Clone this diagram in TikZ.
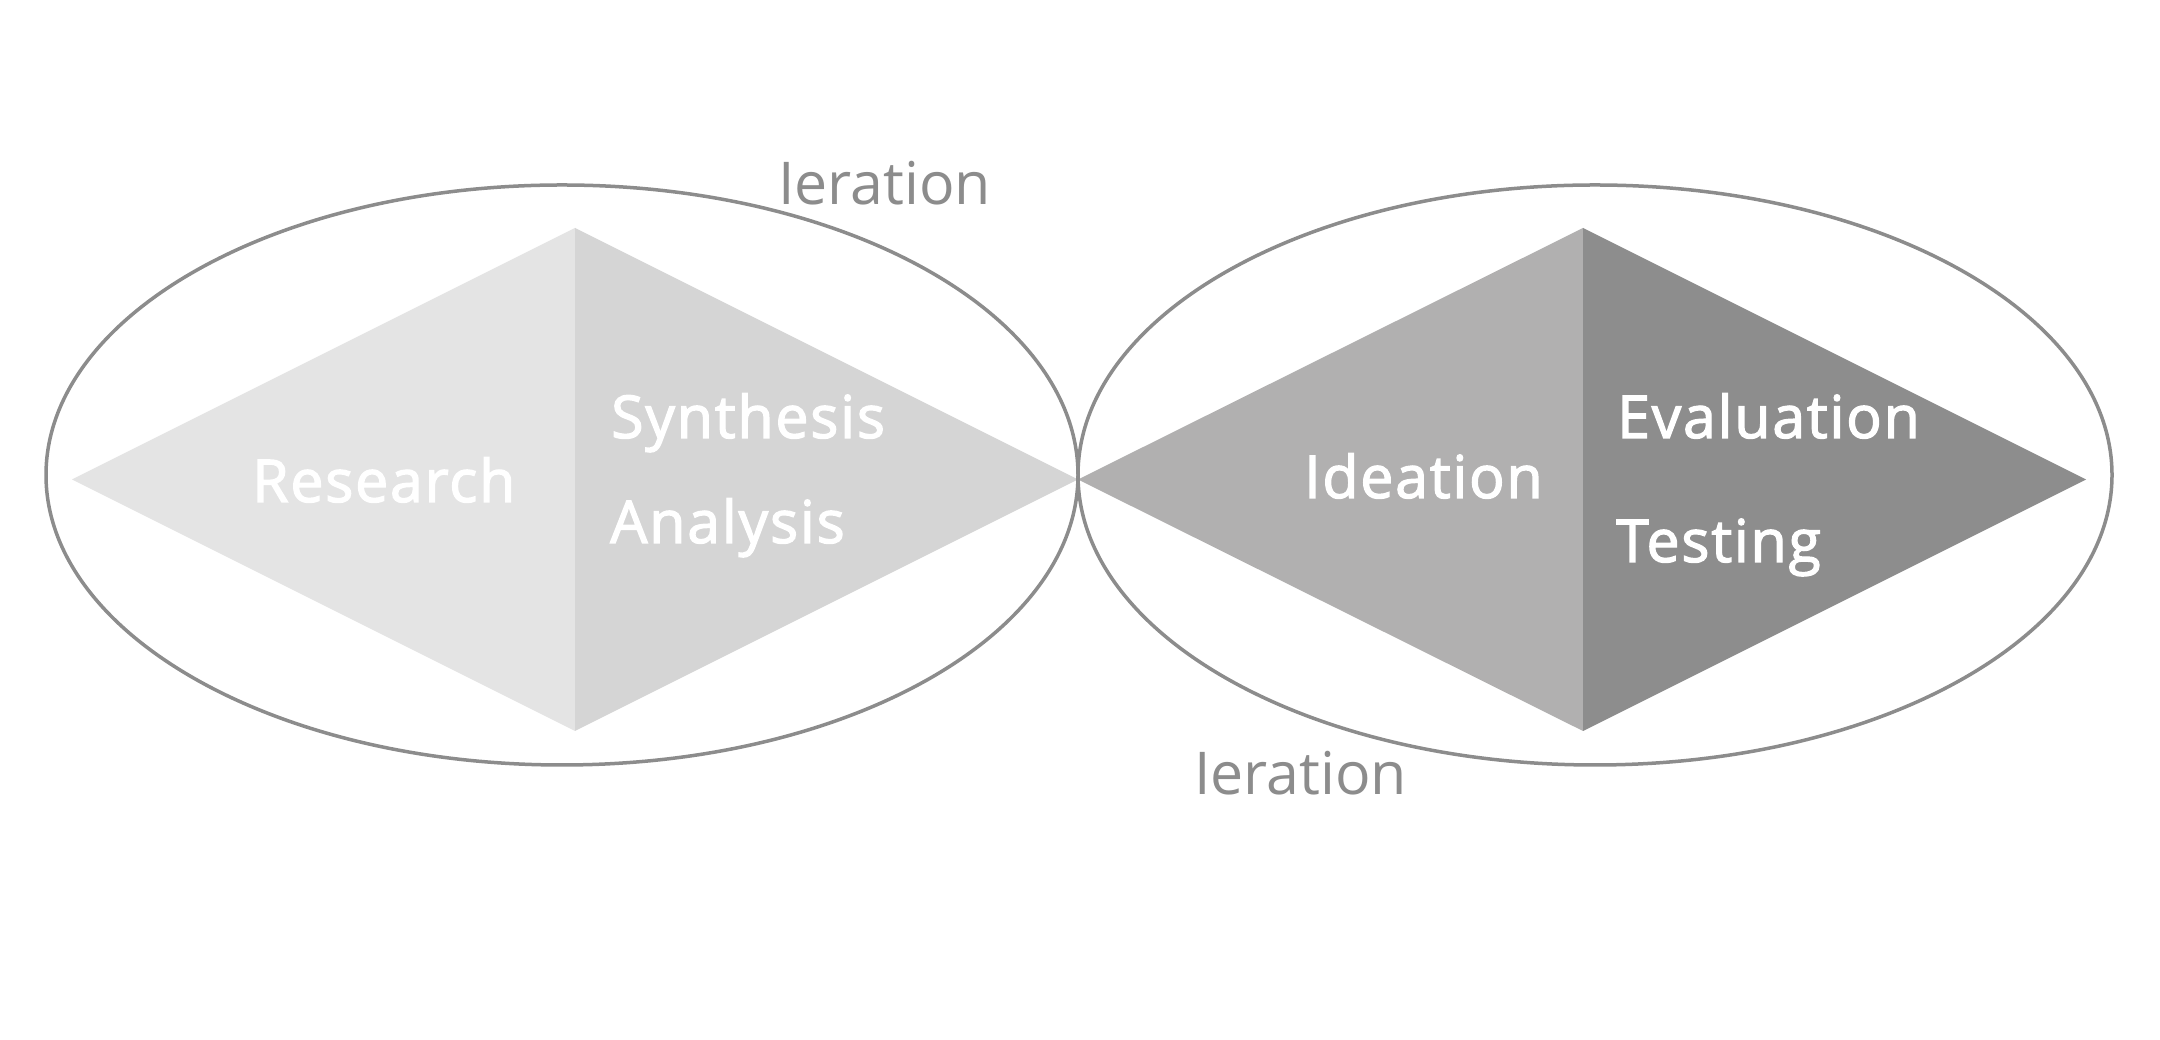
\documentclass[tikz,border=0pt]{standalone}
\usepackage{fontspec}
\setmainfont{Open Sans}
\newfontfamily\semib{Open Sans}[FakeBold=2.2,LetterSpace=3]
\definecolor{lineg}{HTML}{8C8C8C}
\definecolor{tA}{HTML}{E4E4E4}
\definecolor{tB}{HTML}{D5D5D5}
\definecolor{tC}{HTML}{B1B0B0}
\definecolor{tD}{HTML}{8D8D8D}
\begin{document}
\begin{tikzpicture}[x=1pt,y=1pt,
  lbl/.style={anchor=base west,inner sep=0pt,text=white,font=\semib\fontsize{59}{70}\selectfont},
  itlbl/.style={anchor=base west,inner sep=0pt,text=lineg,font=\fontsize{59}{70}\selectfont},
  loop/.style={draw=lineg,line width=3.5pt}]
\useasboundingbox[fill=white] (0,0) rectangle (2160,1040);
% left diamond
\fill[tA] (72,560.5) -- (575,812) -- (575,309) -- cycle;
\fill[tB] (575,812) -- (1078,560.5) -- (575,309) -- cycle;
% right diamond
\fill[tC] (1078,560.5) -- (1583,812) -- (1583,309) -- cycle;
\fill[tD] (1583,812) -- (2086,560.5) -- (1583,309) -- cycle;
% loops
\draw[loop] (562,565) ellipse [x radius=516,y radius=290];
\draw[loop] (1595,565) ellipse [x radius=517,y radius=290];
% labels
\node[lbl] (research) at (252,538) {Research};
\node[lbl] (synthesis) at (611,602) {Synthesis};
\node[lbl] (analysis) at (610,497) {Analysis};
\node[lbl] (ideation) at (1304,542) {Ideation};
\node[lbl] (evaluation) at (1617,602) {Evaluation};
\node[lbl] (testing) at (1616,478) {Testing};
\node[itlbl] (ittop) at (778,835) {Ieration};
\node[itlbl] (itbot) at (1194,245) {Ieration};
\end{tikzpicture}
\end{document}
